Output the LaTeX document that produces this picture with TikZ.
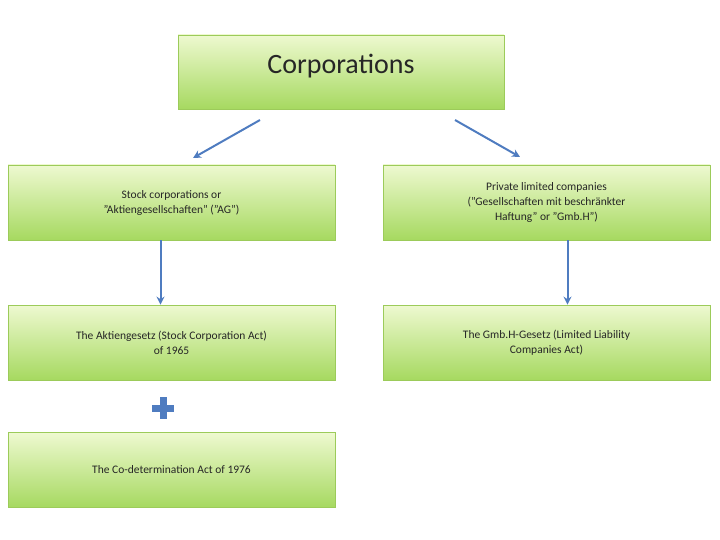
\documentclass[tikz,border=0pt]{standalone}
\usepackage{fontspec}
\setmainfont{Carlito}
\usetikzlibrary{arrows.meta}
\definecolor{gtop}{HTML}{EEF9D0}
\definecolor{gbot}{HTML}{A6D960}
\definecolor{gedge}{HTML}{9CCB5A}
\definecolor{arr}{HTML}{4F7CC0}
\tikzset{
  gbox/.style={draw=gedge, line width=0.8pt, top color=gtop, bottom color=gbot, minimum width=327pt, minimum height=75pt, align=center, font=\fontsize{11.5}{15}\selectfont, text=black!85},
  conn/.style={draw=arr, line width=2pt, -{Stealth[length=8pt,width=8pt]}}
}
\begin{document}
\begin{tikzpicture}[x=1pt,y=-1pt]
\useasboundingbox (0,0) rectangle (720,540);
\node[gbox, minimum width=326pt, minimum height=74pt, font=\fontsize{28}{32}\selectfont, inner sep=0pt] (t) at (341,72) {\raisebox{1.2ex}{Corporations}};
\node[gbox] (a) at (171.5,202.5) {Stock corporations or\\"Aktiengesellschaften" ("AG")};
\node[gbox] (b) at (546.5,202.5) {Private limited companies\\("Gesellschaften mit beschränkter\\Haftung" or "Gmb.H")};
\node[gbox] (c) at (171.5,342.5) {The Aktiengesetz (Stock Corporation Act)\\of 1965};
\node[gbox] (d) at (546.5,342.5) {The Gmb.H-Gesetz (Limited Liability\\Companies Act)};
\node[gbox] (e) at (171.5,470) {The Co-determination Act of 1976};
\coordinate (t1) at (260,120); \coordinate (a1) at (193,158);
\coordinate (t2) at (455,120); \coordinate (b1) at (520,157);
\draw[conn] (t1) -- (a1);
\draw[conn] (t2) -- (b1);
\draw[conn] ([xshift=-11pt]a.south) -- ([xshift=-11pt]c.north);
\draw[conn] ([xshift=21pt]b.south) -- ([xshift=21pt]d.north);
\node[fill=arr, minimum width=22pt, minimum height=7pt, inner sep=0pt] (p1) at (163,408) {};
\node[fill=arr, minimum width=7pt, minimum height=22pt, inner sep=0pt] (p2) at (163,408) {};
\end{tikzpicture}
\end{document}
